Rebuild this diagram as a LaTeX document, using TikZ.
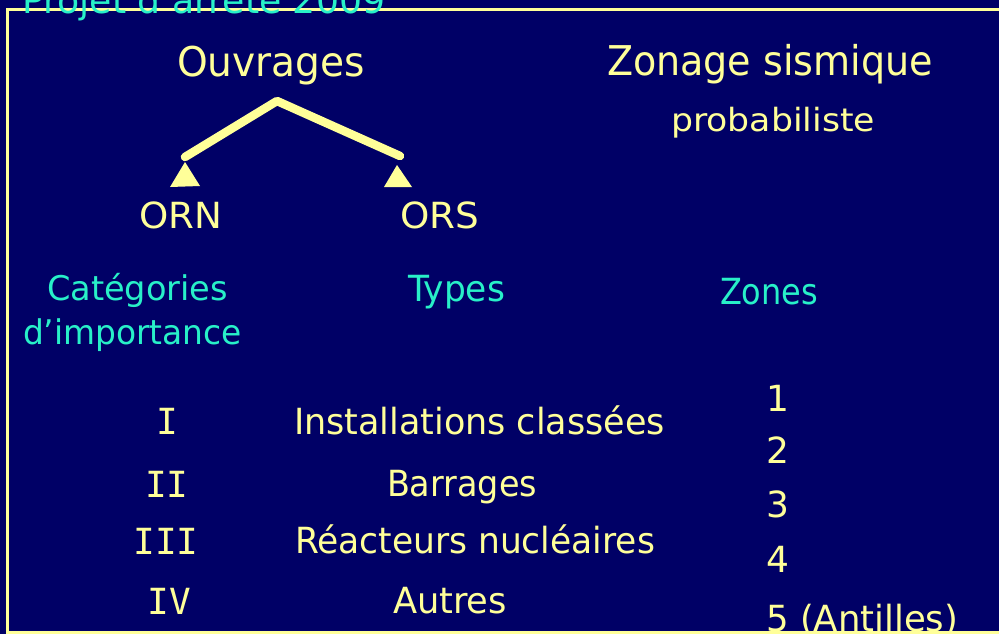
\documentclass[tikz,border=0pt]{standalone}
\usepackage{fontspec}
\usepackage{graphicx}
\setmainfont{DejaVu Sans}
\setmonofont{DejaVu Sans Mono}

\definecolor{slidebg}{RGB}{0,0,102}
\definecolor{slideyellow}{RGB}{255,255,153}
\definecolor{slidecyan}{RGB}{40,240,200}

% set a text at its font, stretched horizontally to a given width (in pt)
\newlength\fitlen
\newcommand\fitto[2]{\settowidth\fitlen{#2}\pgfmathsetmacro\fitratio{#1/\fitlen}\scalebox{\fitratio}[1]{#2}}

\tikzset{
  frameline/.style={draw=slideyellow, line width=3pt},
  branch/.style={draw=slideyellow, line width=8.5pt, line cap=round, line join=round},
  tip/.style={fill=slideyellow},
  title/.style={text=slideyellow, inner sep=0pt, anchor=base, font=\fontsize{41}{46}\selectfont},
  subtitle/.style={text=slideyellow, inner sep=0pt, anchor=base, font=\fontsize{32}{38}\selectfont},
  item/.style={text=slideyellow, inner sep=0pt, anchor=base, font=\fontsize{36}{42}\selectfont},
  numeral/.style={text=slideyellow, inner sep=0pt, anchor=base, font=\fontsize{36}{42}\selectfont\ttfamily},
  zone/.style={text=slideyellow, inner sep=0pt, anchor=base west, font=\fontsize{36}{42}\selectfont},
  header/.style={text=slidecyan, inner sep=0pt, anchor=base, font=\fontsize{36}{42}\selectfont},
}

\begin{document}
\begin{tikzpicture}[x=1pt, y=-1pt]
\useasboundingbox (0,0) rectangle (999,634);
\clip (0,0) rectangle (999,634);
\fill[slidebg] (0,0) rectangle (999,634);

% slide frame
\draw[frameline] (7,10) rectangle (1010,632);

% running title, partly above the page
\node[header, anchor=base west] (running) at (22,14) {\fitto{363}{Projet d’arrêté 2009}};

% headings
\node[title] (ouvrages) at (271,77) {\fitto{188}{Ouvrages}};
\node[title] (zonage) at (770,75) {\fitto{326}{Zonage sismique}};
\node[subtitle] (proba) at (773,131) {\fitto{204}{probabiliste}};

% tree below "Ouvrages"
\coordinate (apex) at (277,101);
\coordinate (lend) at (185,157);
\coordinate (rend) at (400,156);
\draw[branch] (lend) -- (apex) -- (rend);
\fill[tip] (185,162) -- (170,187) -- (200,186) -- cycle;
\fill[tip] (397,165) -- (384,187) -- (412,187) -- cycle;

\node[item] (orn) at (180.5,228) {\fitto{83}{ORN}};
\node[item] (ors) at (439.5,228) {\fitto{79}{ORS}};

% column headers
\node[header, font=\fontsize{34}{40}\selectfont] (cat1) at (137.5,300) {\fitto{181}{Catégories}};
\node[header, font=\fontsize{34}{40}\selectfont] (cat2) at (132.5,344) {\fitto{219}{d’importance}};
\node[header] (types) at (456.5,301) {\fitto{97}{Types}};
\node[header] (zones) at (769,304) {\fitto{98}{Zones}};

% importance categories
\node[numeral] (c1) at (167.5,434) {I};
\node[numeral] (c2) at (167,497) {II};
\node[numeral] (c3) at (166,554) {III};
\node[numeral] (c4) at (169.5,614) {IV};

% types of works
\node[item] (t1) at (479.5,434) {\fitto{371}{Installations classées}};
\node[item] (t2) at (462,496) {\fitto{150}{Barrages}};
\node[item] (t3) at (475,553) {\fitto{360}{Réacteurs nucléaires}};
\node[item] (t4) at (450,613) {\fitto{114}{Autres}};

% seismic zones
\begin{scope}
\clip (0,0) rectangle (999,631);
\node[zone] (z1) at (766,411) {1};
\node[zone] (z2) at (766,463) {2};
\node[zone] (z3) at (766,517) {3};
\node[zone] (z4) at (766,572) {4};
\node[zone] (z5) at (766,631) {\fitto{192}{5 (Antilles)}};
\end{scope}
\draw[frameline] (7,632) -- (1010,632);
\end{tikzpicture}
\end{document}
